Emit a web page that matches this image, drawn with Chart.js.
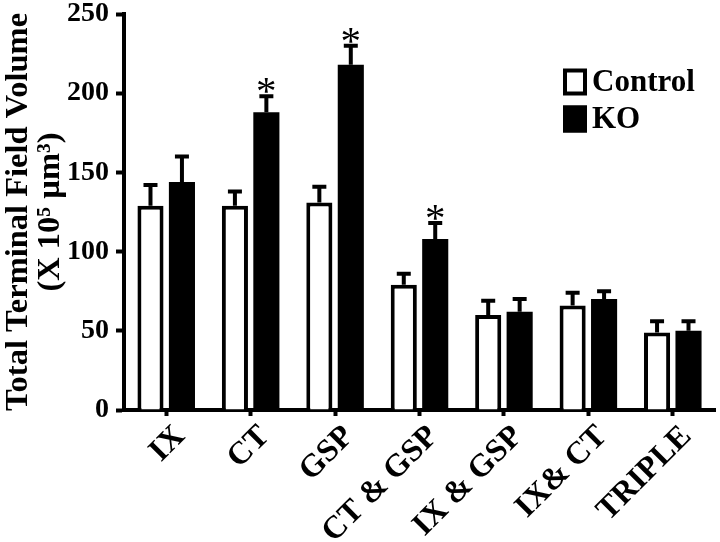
<!DOCTYPE html>
<html>
<head>
<meta charset="utf-8">
<script src="https://cdn.jsdelivr.net/npm/chart.js@4/dist/chart.umd.min.js"></script>
<style>
  html, body { margin: 0; padding: 0; background: #fff; }
  canvas { display: block; }
</style>
</head>
<body>
<canvas id="chart" width="720" height="542"></canvas>
<script>
// Terminal field volume per nerve group, Control vs KO (mean + SEM)
const CATEGORIES = ['IX', 'CT', 'GSP', 'CT & GSP', 'IX & GSP', 'IX& CT', 'TRIPLE'];
const CONTROL = [129, 129, 131, 79, 60, 66, 49];
const CONTROL_ERR = [13, 9, 10, 7, 9, 8, 7];
const KO = [144, 188, 218, 108, 62, 70, 50];
const KO_ERR = [16, 10, 12, 10, 8, 5, 6];
const KO_SIG = [false, true, true, true, false, false, false];
const Y_TICKS = [0, 50, 100, 150, 200, 250];

const SERIF = "'Liberation Serif', 'Times New Roman', serif";

// ── upper error bars + significance stars ──
const errorBars = {
  id: 'errorBars',
  afterDatasetsDraw(chart) {
    const { ctx, scales: { y } } = chart;
    ctx.save();
    ctx.strokeStyle = '#000';
    ctx.fillStyle = '#000';
    ctx.lineWidth = 4;
    chart.data.datasets.forEach((ds, di) => {
      const meta = chart.getDatasetMeta(di);
      meta.data.forEach((bar, i) => {
        const top = y.getPixelForValue(ds.data[i] + ds.errors[i]);
        ctx.beginPath();
        ctx.moveTo(bar.x, bar.y);
        ctx.lineTo(bar.x, top);
        ctx.moveTo(bar.x - 7, top);
        ctx.lineTo(bar.x + 7, top);
        ctx.stroke();
        if (ds.sig && ds.sig[i]) {
          ctx.font = `41px ${SERIF}`;
          ctx.textAlign = 'center';
          ctx.textBaseline = 'alphabetic';
          const m = ctx.measureText('*');
          // glyph bottom = baseline + descent; keep it 3px above the cap
          ctx.fillText('*', bar.x, top - 3 - m.actualBoundingBoxDescent);
        }
      });
    });
    ctx.restore();
  },
};

// ── legend in the upper right of the plot ──
const boxLegend = {
  id: 'boxLegend',
  afterDraw(chart) {
    const { ctx, chartArea } = chart;
    const x0 = chartArea.right - 152;
    let yy = chartArea.top + 68;
    ctx.save();
    ctx.font = `bold 31px ${SERIF}`;
    ctx.textBaseline = 'middle';
    ctx.textAlign = 'left';
    chart.data.datasets.forEach(ds => {
      ctx.fillStyle = ds.backgroundColor;
      ctx.fillRect(x0, yy - 13.5, 24, 27);
      ctx.lineWidth = 4;
      ctx.strokeStyle = '#000';
      ctx.strokeRect(x0 + 2, yy - 11.5, 20, 23);
      ctx.fillStyle = '#000';
      ctx.fillText(ds.label, x0 + 29, yy + 1);
      yy += 37;
    });
    ctx.restore();
  },
};

new Chart(document.getElementById('chart'), {
  type: 'bar',
  data: {
    labels: CATEGORIES,
    datasets: [
      { label: 'Control', data: CONTROL, errors: CONTROL_ERR, backgroundColor: '#fff', borderColor: '#000', borderWidth: 4 },
      { label: 'KO', data: KO, errors: KO_ERR, sig: KO_SIG, backgroundColor: '#000', borderColor: '#000', borderWidth: 0 },
    ],
  },
  options: {
    responsive: false,
    animation: false,
    devicePixelRatio: 1,
    categoryPercentage: 0.745,
    barPercentage: 0.83,
    layout: { padding: { top: 14, right: 5, left: 0, bottom: 0 } },
    plugins: { legend: { display: false }, tooltip: { enabled: false } },
    scales: {
      x: {
        grid: { display: true, offset: false, drawOnChartArea: false, drawTicks: true, tickLength: 6, tickWidth: 4, tickColor: '#000' },
        border: { display: true, width: 4, color: '#000' },
        ticks: { color: '#000', font: { family: SERIF, size: 32, weight: 'bold' }, minRotation: 45, maxRotation: 45, padding: 2, labelOffset: 14, autoSkip: false },
        afterFit: (s) => { s.height = 132; s.paddingLeft = 0; s.paddingRight = 0; },
      },
      y: {
        min: 0,
        max: 250,
        afterBuildTicks: (s) => { s.ticks = Y_TICKS.map(v => ({ value: v })); },
        grid: { display: true, drawOnChartArea: false, drawTicks: true, tickLength: 8, tickWidth: 4, tickColor: '#000' },
        border: { display: true, width: 4, color: '#000' },
        ticks: { color: '#000', font: { family: SERIF, size: 28, weight: 'bold' }, padding: 7 },
        title: {
          display: true,
          text: ['Total Terminal Field Volume', '(X 10\u2075 \u00b5m\u00b3)'],
          color: '#000',
          font: { family: SERIF, size: 32.5, weight: 'bold', lineHeight: 0.98 },
          padding: { top: 3, bottom: 0 },
        },
        afterFit: (s) => { s.width = 124; s.paddingTop = 0; s.paddingBottom = 0; },
      },
    },
  },
  plugins: [errorBars, boxLegend],
});
</script>
</body>
</html>
